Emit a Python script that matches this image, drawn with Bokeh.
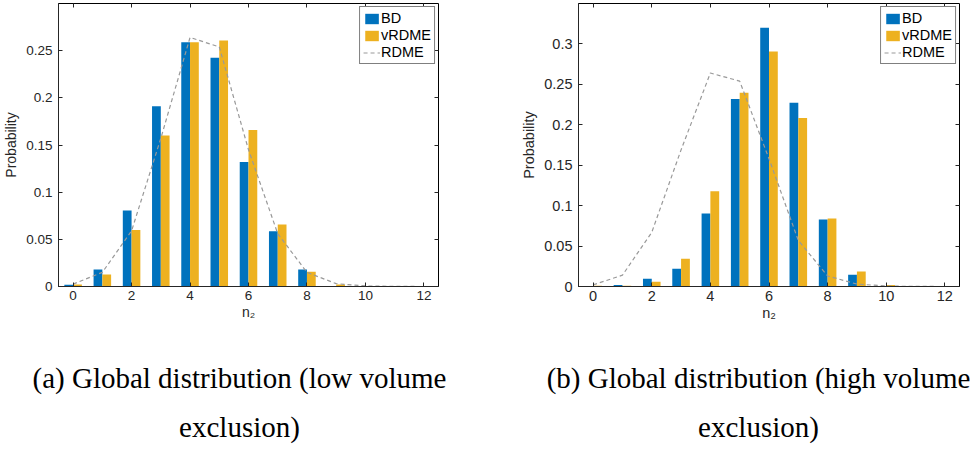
from bokeh.plotting import figure
from bokeh.models import (Range1d, FixedTicker, NumeralTickFormatter, LinearAxis,
                          Legend, LegendItem, Label, ColumnDataSource)
from bokeh.layouts import column, row
from bokeh.embed import file_html
from bokeh.resources import INLINE
from bokeh.transform import dodge

# ---------------- data ----------------
n2 = list(range(13))
bd_low = [0.0018, 0.018, 0.0806, 0.191, 0.259, 0.2425, 0.132, 0.0586, 0.018, 0.0004, 0.0003, 0.0, 0.0]
vrdme_low = [0.002, 0.0128, 0.060, 0.160, 0.259, 0.2607, 0.166, 0.0657, 0.0156, 0.002, 0.0005, 0.0003, 0.0003]
rdme_low = [0.0025, 0.015, 0.059, 0.157, 0.264, 0.254, 0.145, 0.056, 0.015, 0.003, 0.0006, 0.0001, 0.0]

bd_high = [0.0003, 0.002, 0.0096, 0.022, 0.0904, 0.232, 0.320, 0.2271, 0.0829, 0.0145, 0.0003, 0.0, 0.0]
vrdme_high = [0.001, 0.001, 0.0058, 0.0344, 0.1177, 0.2396, 0.2905, 0.2085, 0.0841, 0.0187, 0.002, 0.0005, 0.0005]
rdme_high = [0.002, 0.014, 0.067, 0.169, 0.264, 0.254, 0.158, 0.057, 0.013, 0.003, 0.0006, 0.0001, 0.0]

x_ticks = [0, 2, 4, 6, 8, 10, 12]
y_ticks_low = [0, 0.05, 0.1, 0.15, 0.2, 0.25]
y_ticks_high = [0, 0.05, 0.1, 0.15, 0.2, 0.25, 0.3]

caption_a = ["(a) Global distribution (low volume", "exclusion)"]
caption_b = ["(b) Global distribution (high volume", "exclusion)"]

series_names = ["BD", "vRDME", "RDME"]
x_label = "n\u2082"
y_label = "Probability"

BLUE = "#0072BD"
YELLOW = "#EDB120"
GRAY = "#999999"
AX = "#262626"
FONT = "Liberation Sans"
TOP_H = 330


def make_plot(bd, vr, rd, ymax, yticks, width, bl, br, tick_fs, lab_fs):
    src = ColumnDataSource(dict(n=n2, bd=bd, vr=vr, rd=rd))
    p = figure(width=width, height=TOP_H, x_range=Range1d(-0.5, 12.5),
               y_range=Range1d(0, ymax), output_backend="svg",
               toolbar_location=None, min_border_left=bl, min_border_right=br,
               min_border_top=3, min_border_bottom=44,
               x_axis_label=x_label, y_axis_label=y_label)
    r1 = p.vbar(x=dodge('n', -0.15), top='bd', width=0.3, source=src,
                fill_color=BLUE, line_color=None)
    r2 = p.vbar(x=dodge('n', 0.15), top='vr', width=0.3, source=src,
                fill_color=YELLOW, line_color=None)
    r3 = p.line(x='n', y='rd', source=src, line_color=GRAY, line_width=1.2,
                line_dash="4 3")
    p.grid.visible = False
    p.outline_line_color = "black"
    p.outline_line_alpha = 1
    p.xaxis.ticker = FixedTicker(ticks=x_ticks)
    p.yaxis.ticker = FixedTicker(ticks=yticks)
    p.yaxis.formatter = NumeralTickFormatter(format="0.[00]")
    for ax in (p.xaxis[0], p.yaxis[0]):
        ax.major_tick_in = 4
        ax.major_tick_out = 0
        ax.minor_tick_line_color = None
        ax.axis_line_color = AX
        ax.major_tick_line_color = AX
        ax.major_label_text_color = AX
        ax.major_label_text_font = FONT
        ax.major_label_text_font_size = tick_fs
        ax.axis_label_text_font = FONT
        ax.axis_label_text_font_size = lab_fs
        ax.axis_label_text_font_style = "normal"
        ax.axis_label_text_color = AX
    p.xaxis.major_label_standoff = 4
    p.xaxis.axis_label_standoff = 1
    p.yaxis.major_label_standoff = 6
    p.yaxis.axis_label_standoff = 4
    top_ax = LinearAxis(ticker=FixedTicker(ticks=x_ticks), major_label_text_font_size="1px",
                        major_label_text_color=None,
                        major_label_standoff=0, major_tick_in=4, major_tick_out=0,
                        minor_tick_line_color=None, axis_line_color=None,
                        major_tick_line_color=AX)
    right_ax = LinearAxis(ticker=FixedTicker(ticks=yticks), major_label_text_font_size="1px",
                          major_label_text_color=None,
                          major_label_standoff=0, major_tick_in=4, major_tick_out=0,
                          minor_tick_line_color=None, axis_line_color=None,
                          major_tick_line_color=AX)
    p.add_layout(top_ax, "above")
    p.add_layout(right_ax, "right")

    legend = Legend(items=[LegendItem(label=series_names[0], renderers=[r1]),
                           LegendItem(label=series_names[1], renderers=[r2]),
                           LegendItem(label=series_names[2], renderers=[r3])],
                    location="top_right", margin=3, padding=3, spacing=1,
                    glyph_width=17, glyph_height=13, label_height=15,
                    label_standoff=1, label_text_font=FONT,
                    label_text_font_size="14.5px", label_text_color="black",
                    border_line_color="black", border_line_width=1.2,
                    background_fill_alpha=1)
    p.add_layout(legend)
    return p


p1 = make_plot(bd_low, vrdme_low, rdme_low, 0.3, y_ticks_low, 497, 58, 59, "13.5px", "14px")
p2 = make_plot(bd_high, vrdme_high, rdme_high, 0.35, y_ticks_high, 477, 81, 15, "14.5px", "14.5px")

CAP_H = 449 - TOP_H
cap = figure(width=974, height=CAP_H, x_range=Range1d(0, 1), y_range=Range1d(0, 1),
             output_backend="svg", toolbar_location=None, min_border=0,
             x_axis_type=None, y_axis_type=None, outline_line_color=None)
for cx, lines in ((239, caption_a), (758, caption_b)):
    for i, txt in enumerate(lines):
        cap.add_layout(Label(x=cx, y=CAP_H - 47 - 49 * i, x_units="screen", y_units="screen",
                             text=txt, text_align="center", text_baseline="middle",
                             text_font="Liberation Serif", text_font_size="29px",
                             text_color="black"))

layout = column(row(p1, p2), cap)
open("out.html", "w").write(file_html(layout, INLINE))
